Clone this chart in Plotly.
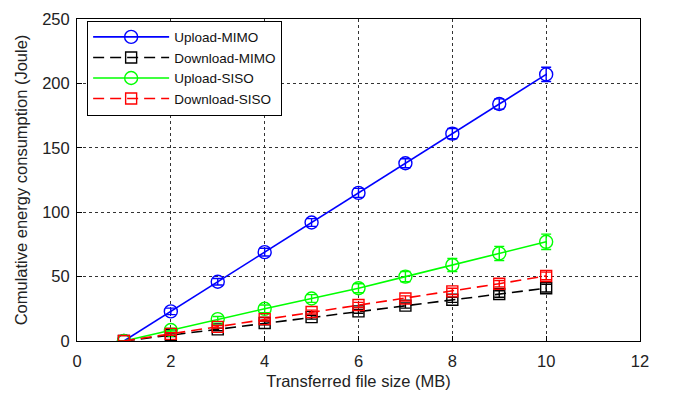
import plotly.graph_objects as go

# Transferred file size (MB)
file_size = [1, 2, 3, 4, 5, 6, 7, 8, 9, 10]

# Cumulative energy consumption (Joule) per scenario
upload_mimo = [0, 23, 46, 69, 92, 115, 138, 161, 184, 207]
download_mimo = [0, 4.5, 9, 14, 18.5, 23, 27.5, 32, 36.5, 41]
upload_siso = [0, 8.5, 17, 25, 33, 41, 50, 59, 68, 77]
download_siso = [0, 5.5, 11, 17, 22.5, 28, 33, 38.5, 44.5, 50.5]

# Standard deviations (error bars)
upload_mimo_err = [0, 2.5, 2.5, 3, 3, 3.5, 3.5, 4, 4, 5.5]
download_mimo_err = [0, 1, 1, 1.5, 1.5, 1.5, 2, 2, 2.5, 3]
upload_siso_err = [0, 1.5, 2, 3, 3, 3.5, 4, 5, 5.5, 6]
download_siso_err = [0, 1, 1, 1.5, 1.5, 2, 2, 2.5, 2.5, 3]

series = [
    ("Upload-MIMO", upload_mimo, upload_mimo_err, "#0000ff", "solid", "circle-open", 13),
    ("Download-MIMO", download_mimo, download_mimo_err, "#000000", "dash", "square-open", 11),
    ("Upload-SISO", upload_siso, upload_siso_err, "#00ff00", "solid", "circle-open", 13),
    ("Download-SISO", download_siso, download_siso_err, "#ff0000", "dash", "square-open", 11),
]

FONT = "Liberation Sans, Arial, sans-serif"

fig = go.Figure()
for name, y, err, color, dash, symbol, msize in series:
    fig.add_trace(go.Scatter(
        x=file_size, y=y, name=name, mode="lines+markers",
        line=dict(color=color, width=1.6, dash="11px,6px" if dash == "dash" else "solid"),
        marker=dict(symbol=symbol, size=msize, color=color, line=dict(width=1.4, color=color)),
        error_y=dict(type="data", array=err, visible=True, color=color, thickness=1.4, width=5),
    ))

axis_common = dict(
    showline=True, linecolor="black", linewidth=1, mirror=True,
    ticks="inside", ticklen=5, tickcolor="black",
    showgrid=True, gridcolor="#333333", griddash="dot", gridwidth=1,
    zeroline=False,
    tickfont=dict(family=FONT, size=16.5, color="#222222"),
    title_font=dict(family=FONT, size=16.5, color="#222222"),
)

fig.update_xaxes(range=[0, 12], dtick=2, title_text="Transferred file size (MB)",
                 ticklabelstandoff=5, title_standoff=6, **axis_common)
fig.update_yaxes(range=[0, 250], dtick=50, title_text="Comulative energy consumption (Joule)",
                 ticklabelstandoff=3, title_standoff=10, **axis_common)

fig.update_layout(
    width=676, height=397,
    margin=dict(l=77, r=36, t=10, b=55),
    plot_bgcolor="white", paper_bgcolor="white",
    legend=dict(
        x=0.018, y=0.995, xanchor="left", yanchor="top",
        bgcolor="white", bordercolor="black", borderwidth=1,
        font=dict(family=FONT, size=13.5, color="#111111"),
        tracegroupgap=0, itemwidth=76,
    ),
    showlegend=True,
)

fig.write_html("out.html")
